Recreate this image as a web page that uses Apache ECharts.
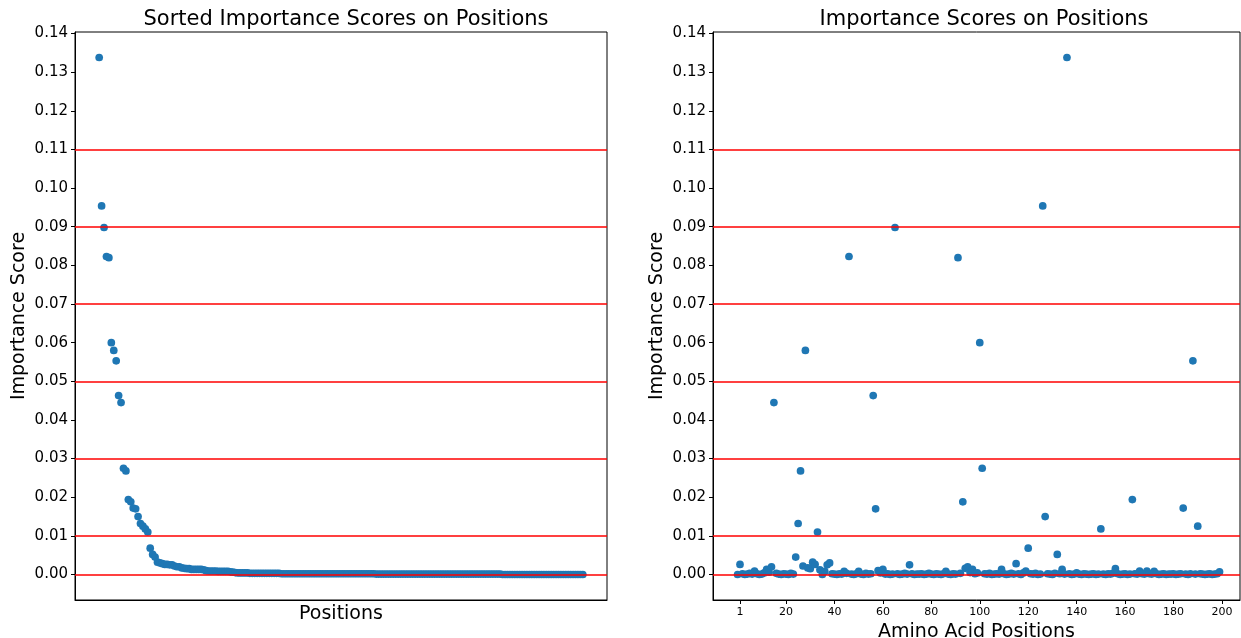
<!DOCTYPE html>
<html>
<head>
<meta charset="utf-8">
<title>Importance Scores on Positions</title>
<script src="https://cdn.jsdelivr.net/npm/echarts@6/dist/echarts.min.js"></script>
<style>
  html, body { margin: 0; padding: 0; background: #ffffff; }
  #chart { width: 1241px; height: 638px; }
</style>
</head>
<body>
<div id="chart"></div>
<script>
// Importance score of each amino acid position (positions 0..199)
const scores = [
  0,      0.0026, 0.0002, 0,      0.0001, 0.0003, 0.0001, 0.0009, 0.0002, 0,
  0.0001, 0.0004, 0.0013, 0.0006, 0.0020, 0.0445, 0.0003, 0.0001, 0,      0.0002,
  0.0001, 0,      0.0003, 0.0001, 0.0045, 0.0132, 0.0268, 0.0022, 0.0580, 0.0017,
  0.0015, 0.0032, 0.0026, 0.0110, 0.0012, 0,      0.0008, 0.0025, 0.0030, 0.0002,
  0.0001, 0,      0.0002, 0.0001, 0.0008, 0.0003, 0.0823, 0.0001, 0,      0.0002,
  0.0008, 0.0001, 0,      0.0003, 0.0001, 0.0002, 0.0463, 0.0170, 0.0010, 0.0004,
  0.0013, 0.0001, 0.0002, 0,      0.0001, 0.0898, 0.0002, 0,      0.0001, 0.0003,
  0.0001, 0.0025, 0.0002, 0,      0.0001, 0.0001, 0.0002, 0,      0.0001, 0.0003,
  0.0001, 0,      0.0002, 0.0001, 0,      0.0002, 0.0008, 0.0001, 0,      0.0002,
  0.0001, 0.0820, 0.0003, 0.0188, 0.0016, 0.0020, 0.0005, 0.0013, 0.0002, 0.0004,
  0.0600, 0.0275, 0.0002, 0.0001, 0.0003, 0,      0.0001, 0.0002, 0.0001, 0.0013,
  0.0002, 0,      0.0001, 0.0003, 0.0001, 0.0028, 0.0002, 0,      0.0004, 0.0009,
  0.0068, 0.0002, 0.0001, 0.0003, 0,      0.0001, 0.0954, 0.0150, 0.0002, 0.0001,
  0,      0.0003, 0.0052, 0.0002, 0.0013, 0.0001, 0.1338, 0.0002, 0,      0.0001,
  0.0004, 0.0001, 0,      0.0002, 0.0001, 0,      0.0001, 0.0002, 0,      0.0001,
  0.0118, 0.0001, 0,      0.0002, 0.0001, 0.0003, 0.0015, 0.0002, 0,      0.0001,
  0.0002, 0,      0.0001, 0.0194, 0.0002, 0.0001, 0.0009, 0.0002, 0.0001, 0.0009,
  0.0002, 0.0001, 0.0008, 0.0002, 0,      0.0001, 0.0002, 0,      0.0001, 0.0001,
  0.0002, 0,      0.0001, 0.0002, 0.0172, 0.0001, 0,      0.0002, 0.0553, 0.0001,
  0.0125, 0.0002, 0.0001, 0,      0.0001, 0.0002, 0,      0.0001, 0.0002, 0.0007
];

// Tick marks on the score axis and on the position axis
const scoreTicks = [0, 0.01, 0.02, 0.03, 0.04, 0.05, 0.06, 0.07, 0.08, 0.09, 0.10, 0.11, 0.12, 0.13, 0.14];
const positionTicks = [1, 20, 40, 60, 80, 100, 120, 140, 160, 180, 200];

// Horizontal reference levels drawn in red
const thresholdLevels = [0, 0.01, 0.03, 0.05, 0.07, 0.09, 0.11];

// Left panel: scores ranked from highest to lowest
const sortedScores = scores.slice().sort((a, b) => b - a);

const FONT = 'DejaVu Sans';
const BLUE = '#1f77b4';

const chart = echarts.init(document.getElementById('chart'), null, { renderer: 'canvas' });

const yAxisCommon = {
  type: 'value',
  min: -0.0066,
  max: 0.1404,
  name: 'Importance Score',
  nameLocation: 'middle',
  nameGap: 46,
  nameTextStyle: { fontFamily: FONT, fontSize: 19, color: '#000' },
  splitLine: { show: false },
  axisLine: { show: true, onZero: false, lineStyle: { color: '#000', width: 1 } },
  axisTick: { show: true, inside: false, length: 4, lineStyle: { color: '#000' }, customValues: scoreTicks },
  axisLabel: {
    fontFamily: FONT, fontSize: 15, color: '#000', margin: 7,
    customValues: scoreTicks,
    formatter: v => v.toFixed(2)
  }
};

const markLines = {
  silent: true,
  symbol: ['none', 'none'],
  label: { show: false },
  lineStyle: { color: '#ff0000', width: 1.5, type: 'solid' },
  data: thresholdLevels.map(v => ({ yAxis: v }))
};

const gridCommon = {
  top: 32, bottom: 38,
  show: true, borderColor: '#000', borderWidth: 1, backgroundColor: 'transparent',
  containLabel: false,
  outerBoundsMode: 'none'
};

const option = {
  backgroundColor: '#ffffff',
  animation: false,
  title: [
    {
      text: 'Sorted Importance Scores on Positions',
      left: 341, top: 4, textAlign: 'center',
      textStyle: { fontFamily: FONT, fontSize: 21, fontWeight: 'normal', color: '#000' }
    },
    {
      text: 'Importance Scores on Positions',
      left: 979, top: 4, textAlign: 'center',
      textStyle: { fontFamily: FONT, fontSize: 21, fontWeight: 'normal', color: '#000' }
    }
  ],
  grid: [
    Object.assign({ left: 75, width: 532 }, gridCommon),
    Object.assign({ left: 713, width: 527 }, gridCommon)
  ],
  xAxis: [
    {
      gridIndex: 0,
      type: 'value',
      min: -9.95,
      max: 208.95,
      name: 'Positions',
      nameLocation: 'middle',
      nameGap: 5,
      nameTextStyle: { fontFamily: FONT, fontSize: 19, color: '#000', verticalAlign: 'top' },
      splitLine: { show: false },
      axisLine: { show: true, onZero: false, lineStyle: { color: '#000', width: 1 } },
      axisTick: { show: false },
      axisLabel: { show: false }
    },
    {
      gridIndex: 1,
      type: 'value',
      min: -10.15,
      max: 207.45,
      name: 'Amino Acid Positions',
      nameLocation: 'middle',
      nameGap: 21,
      nameTextStyle: { fontFamily: FONT, fontSize: 19, color: '#000', verticalAlign: 'top' },
      splitLine: { show: false },
      axisLine: { show: true, onZero: false, lineStyle: { color: '#000', width: 1 } },
      axisTick: { show: true, inside: false, length: 4, lineStyle: { color: '#000' }, customValues: positionTicks },
      axisLabel: {
        fontFamily: FONT, fontSize: 11, color: '#000', margin: 7,
        customValues: positionTicks,
        formatter: v => String(v)
      }
    }
  ],
  yAxis: [
    Object.assign({ gridIndex: 0 }, yAxisCommon),
    Object.assign({ gridIndex: 1 }, yAxisCommon)
  ],
  series: [
    {
      type: 'scatter',
      xAxisIndex: 0, yAxisIndex: 0,
      symbol: 'circle', symbolSize: 7.7,
      itemStyle: { color: BLUE, opacity: 1 },
      data: sortedScores.map((v, i) => [i, v]),
      markLine: markLines,
      z: 3
    },
    {
      type: 'scatter',
      xAxisIndex: 1, yAxisIndex: 1,
      symbol: 'circle', symbolSize: 7.7,
      itemStyle: { color: BLUE, opacity: 1 },
      data: scores.map((v, i) => [i, v]),
      markLine: markLines,
      z: 3
    }
  ]
};

chart.setOption(option);
</script>
</body>
</html>
